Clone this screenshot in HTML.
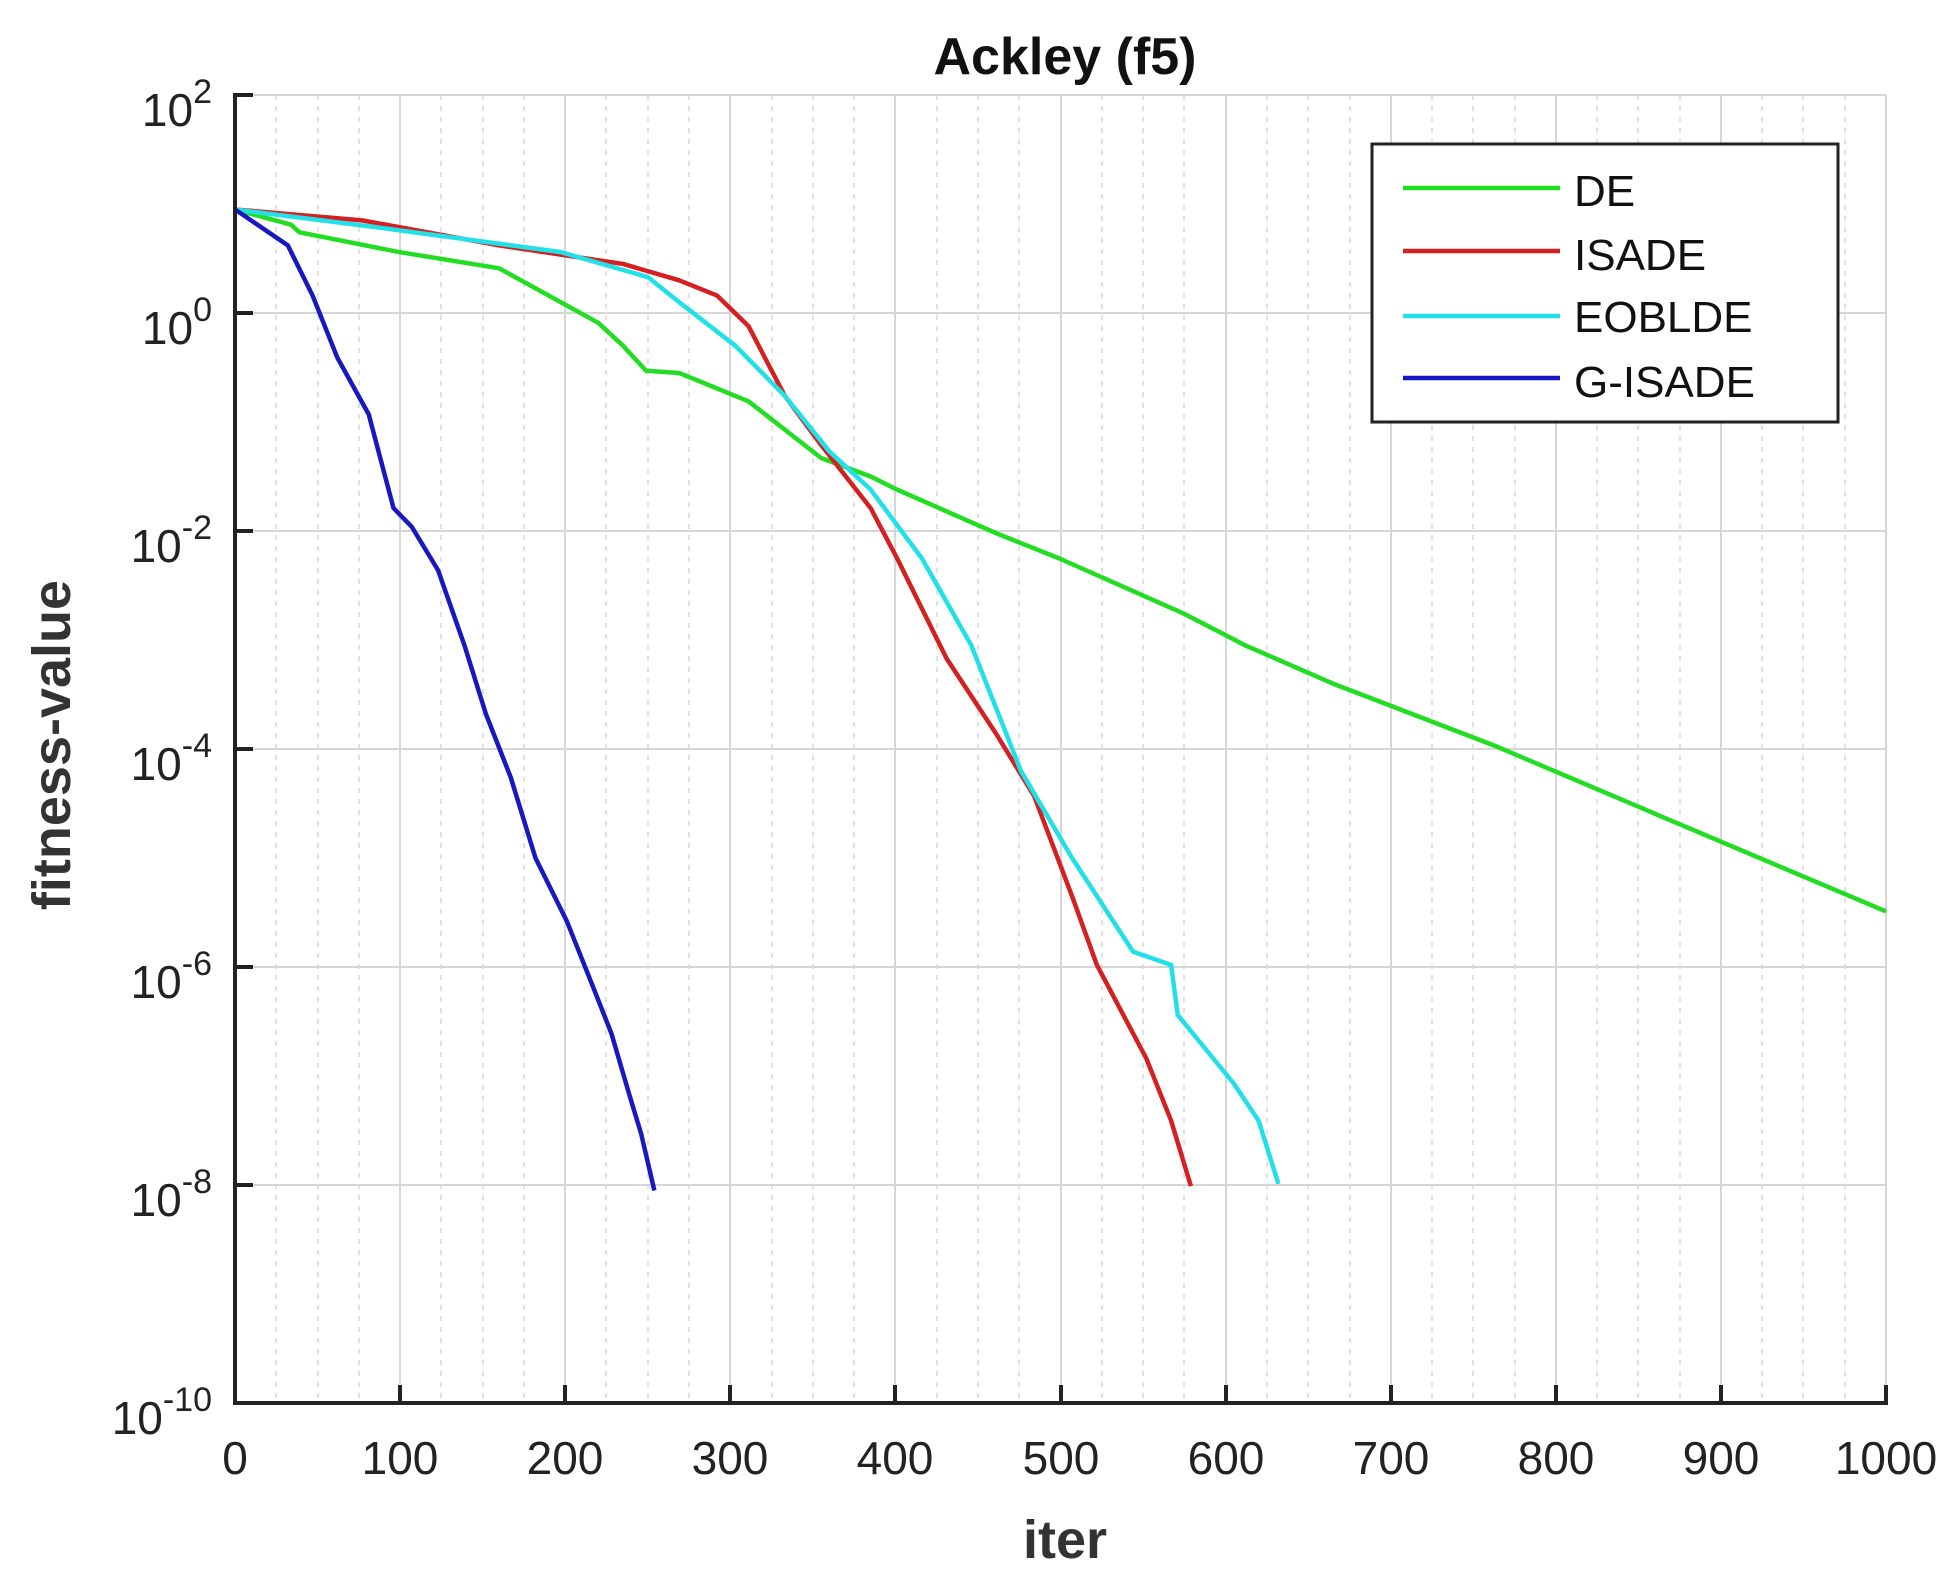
<!DOCTYPE html>
<html><head><meta charset="utf-8"><style>
html,body{margin:0;padding:0;background:#fff;}
svg{display:block;font-family:"Liberation Sans",sans-serif;}
</style></head><body>
<svg width="1953" height="1582" viewBox="0 0 1953 1582" xmlns="http://www.w3.org/2000/svg">
<rect width="1953" height="1582" fill="#fff"/>
<g stroke="#e2e2e2" stroke-width="2" stroke-dasharray="5,6">
<line x1="276" y1="95" x2="276" y2="1403"/><line x1="318" y1="95" x2="318" y2="1403"/><line x1="359" y1="95" x2="359" y2="1403"/>
<line x1="441" y1="95" x2="441" y2="1403"/><line x1="483" y1="95" x2="483" y2="1403"/><line x1="524" y1="95" x2="524" y2="1403"/>
<line x1="606" y1="95" x2="606" y2="1403"/><line x1="648" y1="95" x2="648" y2="1403"/><line x1="689" y1="95" x2="689" y2="1403"/>
<line x1="772" y1="95" x2="772" y2="1403"/><line x1="813" y1="95" x2="813" y2="1403"/><line x1="854" y1="95" x2="854" y2="1403"/>
<line x1="937" y1="95" x2="937" y2="1403"/><line x1="978" y1="95" x2="978" y2="1403"/><line x1="1019" y1="95" x2="1019" y2="1403"/>
<line x1="1102" y1="95" x2="1102" y2="1403"/><line x1="1143" y1="95" x2="1143" y2="1403"/><line x1="1184" y1="95" x2="1184" y2="1403"/>
<line x1="1267" y1="95" x2="1267" y2="1403"/><line x1="1308" y1="95" x2="1308" y2="1403"/><line x1="1350" y1="95" x2="1350" y2="1403"/>
<line x1="1432" y1="95" x2="1432" y2="1403"/><line x1="1473" y1="95" x2="1473" y2="1403"/><line x1="1515" y1="95" x2="1515" y2="1403"/>
<line x1="1597" y1="95" x2="1597" y2="1403"/><line x1="1638" y1="95" x2="1638" y2="1403"/><line x1="1680" y1="95" x2="1680" y2="1403"/>
<line x1="1762" y1="95" x2="1762" y2="1403"/><line x1="1803" y1="95" x2="1803" y2="1403"/><line x1="1845" y1="95" x2="1845" y2="1403"/>
</g>
<g stroke="#d6d6d6" stroke-width="2">
<line x1="400" y1="95" x2="400" y2="1403"/><line x1="565" y1="95" x2="565" y2="1403"/><line x1="730" y1="95" x2="730" y2="1403"/>
<line x1="895" y1="95" x2="895" y2="1403"/><line x1="1061" y1="95" x2="1061" y2="1403"/><line x1="1226" y1="95" x2="1226" y2="1403"/>
<line x1="1391" y1="95" x2="1391" y2="1403"/><line x1="1556" y1="95" x2="1556" y2="1403"/><line x1="1721" y1="95" x2="1721" y2="1403"/>
<line x1="1886" y1="95" x2="1886" y2="1403"/>
<line x1="235" y1="95" x2="1886" y2="95"/><line x1="235" y1="313" x2="1886" y2="313"/><line x1="235" y1="531" x2="1886" y2="531"/>
<line x1="235" y1="749" x2="1886" y2="749"/><line x1="235" y1="967" x2="1886" y2="967"/><line x1="235" y1="1185" x2="1886" y2="1185"/>
</g>
<g fill="none" stroke-width="4.5" stroke-linejoin="round" transform="matrix(1.651 0 0 -109 235 313)">
<polyline vector-effect="non-scaling-stroke" stroke="#22dd22" points="0,0.95 34,0.81 39,0.74 99,0.56 160,0.41 190,0.16 220,-0.09 235,-0.3 249,-0.53 269,-0.55 311,-0.81 355,-1.33 385,-1.5 401,-1.62 461,-2.02 499,-2.25 575,-2.76 612,-3.05 665,-3.4 763,-3.97 861,-4.6 1000,-5.49"/>
<polyline vector-effect="non-scaling-stroke" stroke="#d42020" points="0,0.95 77,0.85 160,0.62 235,0.45 269,0.3 292,0.16 311,-0.12 333,-0.76 355,-1.21 385,-1.79 401,-2.25 431,-3.17 461,-3.86 484,-4.43 507,-5.35 522,-5.98 552,-6.84 567,-7.41 579,-8.01"/>
<polyline vector-effect="non-scaling-stroke" stroke="#22e0e8" points="0,0.95 84,0.79 197,0.56 250,0.33 269,0.1 303,-0.3 333,-0.76 360,-1.27 385,-1.62 416,-2.25 446,-3.05 476,-4.2 507,-5.0 544,-5.86 567,-5.98 571,-6.44 605,-7.07 620,-7.41 632,-7.99"/>
<polyline vector-effect="non-scaling-stroke" stroke="#1818c0" points="0,0.95 32,0.62 47,0.16 62,-0.41 81,-0.93 96,-1.79 107,-1.96 123,-2.36 139,-3.05 152,-3.68 167,-4.26 182,-5.0 201,-5.58 216,-6.15 228,-6.61 239,-7.18 246,-7.53 254,-8.05"/>
</g>
<g stroke="#222" stroke-width="4" fill="none">
<polyline points="253,95 235,95 235,1403 1886,1403 1886,1385"/>
<line x1="235" y1="313" x2="253" y2="313"/><line x1="235" y1="531" x2="253" y2="531"/><line x1="235" y1="749" x2="253" y2="749"/>
<line x1="235" y1="967" x2="253" y2="967"/><line x1="235" y1="1185" x2="253" y2="1185"/>
<line x1="400" y1="1403" x2="400" y2="1385"/><line x1="565" y1="1403" x2="565" y2="1385"/><line x1="730" y1="1403" x2="730" y2="1385"/>
<line x1="895" y1="1403" x2="895" y2="1385"/><line x1="1061" y1="1403" x2="1061" y2="1385"/><line x1="1226" y1="1403" x2="1226" y2="1385"/>
<line x1="1391" y1="1403" x2="1391" y2="1385"/><line x1="1556" y1="1403" x2="1556" y2="1385"/><line x1="1721" y1="1403" x2="1721" y2="1385"/>
</g>
<g font-size="46" fill="#222" text-anchor="middle">
<text x="235" y="1474">0</text><text x="400" y="1474">100</text><text x="565" y="1474">200</text><text x="730" y="1474">300</text>
<text x="895" y="1474">400</text><text x="1061" y="1474">500</text><text x="1226" y="1474">600</text><text x="1391" y="1474">700</text>
<text x="1556" y="1474">800</text><text x="1721" y="1474">900</text><text x="1886" y="1474">1000</text>
</g>
<g font-size="46" fill="#222" text-anchor="end">
<text x="212" y="126">10<tspan font-size="34" dy="-23">2</tspan></text>
<text x="212" y="344">10<tspan font-size="34" dy="-23">0</tspan></text>
<text x="212" y="562">10<tspan font-size="34" dy="-23">-2</tspan></text>
<text x="212" y="780">10<tspan font-size="34" dy="-23">-4</tspan></text>
<text x="212" y="998">10<tspan font-size="34" dy="-23">-6</tspan></text>
<text x="212" y="1216">10<tspan font-size="34" dy="-23">-8</tspan></text>
<text x="212" y="1434">10<tspan font-size="34" dy="-23">-10</tspan></text>
</g>
<text x="1065" y="74" font-size="52" font-weight="bold" text-anchor="middle" fill="#111">Ackley (f5)</text>
<text x="1065" y="1558" font-size="54" font-weight="bold" text-anchor="middle" fill="#333">iter</text>
<text transform="translate(70,745) rotate(-90)" font-size="54" font-weight="bold" text-anchor="middle" fill="#333">fitness-value</text>
<rect x="1372" y="144" width="466" height="278" fill="#fff" stroke="#222" stroke-width="3"/>
<g stroke-width="4.5">
<line x1="1403" y1="188" x2="1560" y2="188" stroke="#22dd22"/>
<line x1="1403" y1="251" x2="1560" y2="251" stroke="#d42020"/>
<line x1="1403" y1="316" x2="1560" y2="316" stroke="#22e0e8"/>
<line x1="1403" y1="378" x2="1560" y2="378" stroke="#1818c0"/>
</g>
<g font-size="44" fill="#111">
<text x="1574" y="206">DE</text><text x="1574" y="270">ISADE</text><text x="1574" y="332">EOBLDE</text><text x="1574" y="397">G-ISADE</text>
</g>
</svg>
</body></html>
